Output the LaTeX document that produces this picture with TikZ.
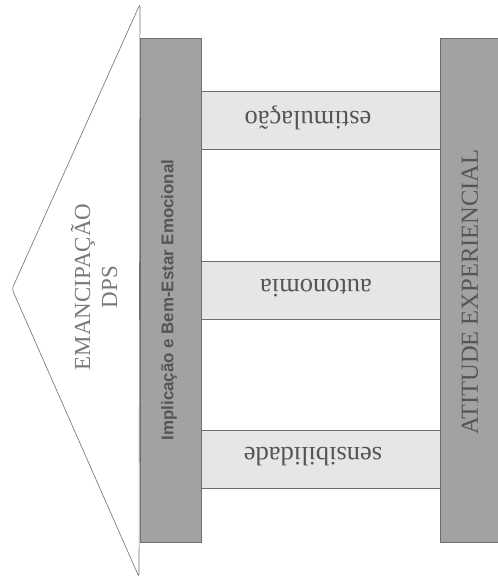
\documentclass[tikz,border=0pt]{standalone}
\usepackage{fontspec}
\setmainfont{Liberation Serif}
\newfontfamily\barrasans{Liberation Sans}
\usepackage{tikz}
\definecolor{Barra}{HTML}{A2A2A2}
\definecolor{Degrau}{HTML}{E6E6E6}
\definecolor{Traco}{HTML}{6E6E6E}
\definecolor{TextoBarra}{HTML}{555555}
\definecolor{TextoClaro}{HTML}{7A7A7A}

\begin{document}
\begin{tikzpicture}[x=1pt,y=-1pt,
  barra/.style={draw=Traco,fill=Barra,line width=0.6pt,
    minimum height=504pt,inner sep=0pt},
  degrau/.style={draw=Traco,fill=Degrau,line width=0.6pt,
    minimum width=239pt,minimum height=58pt,inner sep=0pt},
  rotulo/.style={rotate=180,text=TextoBarra,inner sep=0pt,
    font=\fontsize{26.5}{28}\selectfont}]
  \useasboundingbox (0,0) rectangle (498,582);

  % Seta da emancipação.
  \draw[Traco,line width=0.6pt,rounded corners=3pt]
    (140,4) -- (12,289) -- (139,577) -- cycle;
  \node[rotate=90,align=center,text=TextoClaro,
    font=\fontsize{23}{27}\selectfont] (emanc) at (94,287)
    {EMANCIPAÇÃO\\DPS};

  % Degraus entre as duas barras.
  \node[degrau] (estim) at (320.5,120) {};
  \node[degrau] (auton) at (320.5,290) {};
  \node[degrau] (sensib) at (320.5,459.5) {};
  \node[rotulo] (estimTxt) at (308,118) {estimulação};
  \node[rotulo] (autonTxt) at (316,288) {autonomia};
  \node[rotulo] (sensibTxt) at (313,457) {sensibilidade};

  % Barras verticais.
  \node[barra,minimum width=61pt] (impl) at (170.5,290) {};
  \node[barra,minimum width=58pt] (atit) at (469,290) {};
  \node[rotate=90,text=TextoBarra,inner sep=0pt,
    font=\barrasans\bfseries\fontsize{16.9}{18}\selectfont] (implTxt)
    at (169,300) {Implicação e Bem-Estar Emocional};
  \node[rotate=90,text=TextoBarra,inner sep=0pt,
    font=\fontsize{24.5}{26}\selectfont] (atitTxt) at (470,292)
    {ATITUDE EXPERIENCIAL};
\end{tikzpicture}
\end{document}
